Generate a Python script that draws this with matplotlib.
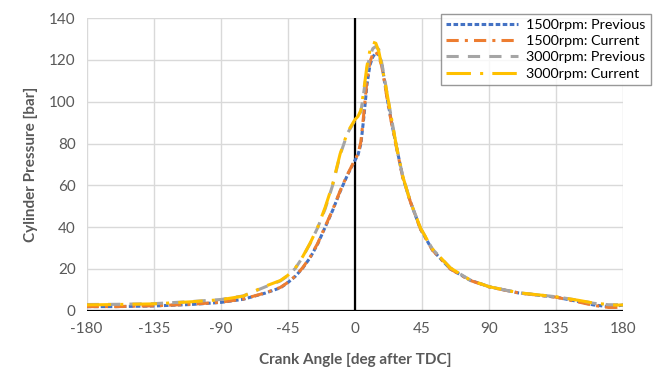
import matplotlib
matplotlib.use("Agg")
import matplotlib.pyplot as plt

angle = [-180, -160, -135, -110, -90, -75, -60, -50, -45, -40, -35, -30, -25, -20, -15, -10, -5,
         0, 2, 4, 6, 8, 10, 12, 14, 16, 18, 20, 22, 25, 28, 32, 37, 44, 52, 64, 77, 90,
         110, 135, 150, 160, 170, 175, 180]

p1500_prev = [2.0, 2.0, 2.3, 3.0, 4.0, 5.5, 8.5, 11.0, 13.5, 16.5, 20.5, 25.5, 32.0, 40.0, 48.0, 57.0, 65.0,
              72.0, 74.5, 80.0, 93.0, 108.0, 117.5, 121.5, 123.5, 122.5, 118.0, 109.0, 100.0, 88.5, 78.0, 64.0, 52.5, 39.0, 29.0, 20.0, 14.7, 11.5,
              8.5, 6.5, 4.4, 2.8, 2.0, 2.2, 2.8]
p1500_curr = [2.0, 2.0, 2.4, 3.1, 4.1, 5.6, 8.6, 11.2, 13.6, 16.6, 20.7, 25.8, 32.3, 40.3, 48.3, 57.3, 65.3,
              72.3, 75.0, 81.0, 95.0, 110.0, 119.0, 123.0, 124.0, 121.5, 117.0, 108.5, 99.5, 88.0, 77.5, 64.0, 52.5, 39.0, 29.0, 20.0, 14.6, 11.4,
              8.5, 6.5, 4.2, 2.6, 1.6, 1.6, 1.9]
p3000_prev = [3.0, 3.1, 3.4, 4.4, 5.4, 7.1, 11.5, 14.3, 16.8, 20.3, 25.8, 32.3, 39.8, 48.8, 60.0, 74.5, 85.0,
              91.0, 92.5, 95.5, 105.0, 115.5, 122.0, 125.5, 126.5, 125.0, 118.5, 110.5, 102.0, 90.0, 78.0, 64.5, 52.5, 39.5, 29.5, 20.5, 14.8, 11.5,
              8.6, 6.7, 5.0, 3.6, 2.9, 2.9, 3.2]
p3000_curr = [2.8, 3.0, 3.3, 4.3, 5.3, 7.0, 11.8, 14.5, 17.0, 20.5, 26.0, 32.5, 40.0, 49.5, 60.5, 75.0, 85.5,
              91.5, 93.0, 96.0, 106.0, 117.0, 124.5, 128.5, 128.0, 124.0, 117.0, 110.0, 102.0, 90.0, 78.0, 64.5, 52.5, 39.5, 29.5, 20.5, 14.8, 11.5,
              8.6, 6.7, 5.0, 3.7, 3.0, 2.7, 2.8]

labels = ["1500rpm: Previous", "1500rpm: Current", "3000rpm: Previous", "3000rpm: Current"]
colors = ["#4472C4", "#ED7D31", "#A5A5A5", "#FFC000"]
dashes = [(1.5, 0.8), (4, 2, 1, 2), (4, 3), (8, 3, 1, 3)]
xticks = [-180, -135, -90, -45, 0, 45, 90, 135, 180]
yticks = [0, 20, 40, 60, 80, 100, 120, 140]

plt.rcParams['font.family'] = ['Lato', 'DejaVu Sans']
plt.rcParams['axes.unicode_minus'] = False
fig = plt.figure(figsize=(6.6, 3.79), dpi=100)
ax = fig.add_axes([0.1313, 0.180, 0.8131, 0.772])

series = [p1500_prev, p1500_curr, p3000_prev, p3000_curr]
for vals, lab, col, ds in zip(series, labels, colors, dashes):
    ax.plot(angle, vals, color=col, lw=2.2, dashes=ds, label=lab, zorder=3)

ax.set_xlim(-180, 180)
ax.set_ylim(0, 140)
ax.set_xticks(xticks)
ax.set_yticks(yticks)
ax.grid(True, color="#D9D9D9", lw=1.0, zorder=0)
ax.set_axisbelow(True)
for s in ax.spines.values():
    s.set_visible(False)
ax.axhline(0, color="black", lw=1.6, zorder=2)
ax.axvline(0, color="black", lw=1.6, zorder=2)
ax.tick_params(length=0, labelsize=11, colors="#595959", pad=8)
ax.set_xlabel("Crank Angle [deg after TDC]", fontsize=11, fontweight="bold", color="#595959", labelpad=12)
ax.set_ylabel("Cylinder Pressure [bar]", fontsize=11, fontweight="bold", color="#595959", labelpad=8)

leg = ax.legend(loc="upper right", bbox_to_anchor=(0.997, 0.983), bbox_transform=fig.transFigure,
                fontsize=10.3, frameon=True, fancybox=False, handlelength=5.0, borderpad=0.35,
                labelspacing=0.3, handletextpad=0.6)
leg.get_frame().set_edgecolor("#7F7F7F")
leg.get_frame().set_linewidth(1.0)
for t in leg.get_texts():
    t.set_color("#000000")

fig.savefig("out.png", dpi=100)
